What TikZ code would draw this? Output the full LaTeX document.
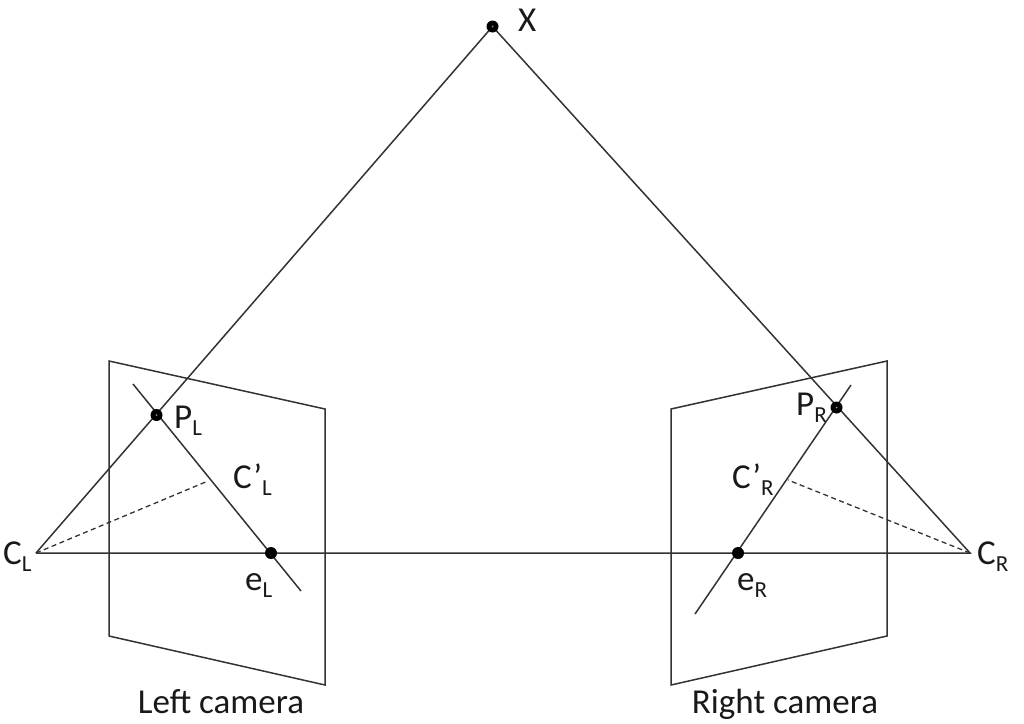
\documentclass[tikz,border=0pt]{standalone}
\usepackage{fontspec}
\setmainfont{Carlito}
\newcommand{\subtxt}[1]{\raisebox{-7pt}{\fontsize{23}{23}\selectfont #1}}
\begin{document}
\begin{tikzpicture}[x=1pt,y=-1pt,
  ln/.style={draw=black!80,line width=1.5pt},
  dsh/.style={draw=black!80,line width=1.3pt,dash pattern=on 5pt off 3.5pt},
  pt/.style={circle,fill=black,inner sep=0pt,minimum size=12pt,draw=none},
  lab/.style={inner sep=0pt,font=\fontsize{35}{35}\selectfont,text=black!90,anchor=base west}]
\useasboundingbox (0,0) rectangle (1024,723);
\coordinate (XX) at (492.5,26.5);
\coordinate (CL) at (36,553);
\coordinate (CR) at (970,553);
\coordinate (PLp) at (156.5,415);
\coordinate (PRp) at (836.5,407.5);
\coordinate (ELp) at (271,553);
\coordinate (ERp) at (738,553);
\coordinate (LTop) at (133,384);
\coordinate (LBot) at (301,591);
\coordinate (RTop) at (851,385);
\coordinate (RBot) at (695,614);
\coordinate (CpL) at (208,481);
\coordinate (CpR) at (788,480);
\draw[ln] (109,361) -- (325,409) -- (325,685) -- (109,636) -- cycle;
\draw[ln] (671,409) -- (887,361) -- (887,636) -- (671,685) -- cycle;
\draw[ln] (CL) -- (XX) -- (CR) -- (CL);
\draw[ln] (LTop) -- (LBot);
\draw[ln] (RBot) -- (RTop);
\draw[dsh] (CL) -- (CpL);
\draw[dsh] (CR) -- (CpR);
\node[pt] (nX) at (XX) {};
\node[pt] (nPL) at (PLp) {};
\node[pt] (nPR) at (PRp) {};
\node[pt] (nEL) at (ELp) {};
\node[pt] (nER) at (ERp) {};
\fill[black!45] (XX) circle (1pt) (PLp) circle (1pt) (PRp) circle (1pt);
\node[lab] (tX) at (518,31) {X};
\node[lab] (tPL) at (174,428) {P\subtxt{L}};
\node[lab] (tPR) at (796,415) {P\subtxt{R}};
\node[lab] (tCL) at (3,564) {C\subtxt{L}};
\node[lab] (tCR) at (977,564) {C\subtxt{R}};
\node[lab] (tEL) at (245,590) {e\subtxt{L}};
\node[lab] (tER) at (737,590) {e\subtxt{R}};
\node[lab] (tCpL) at (233,488) {C’\subtxt{L}};
\node[lab] (tCpR) at (732,488) {C’\subtxt{R}};
\node[lab,anchor=base] (tLeft) at (221,713) {Left camera};
\node[lab,anchor=base] (tRight) at (785,713) {Right camera};
\end{tikzpicture}
\end{document}
